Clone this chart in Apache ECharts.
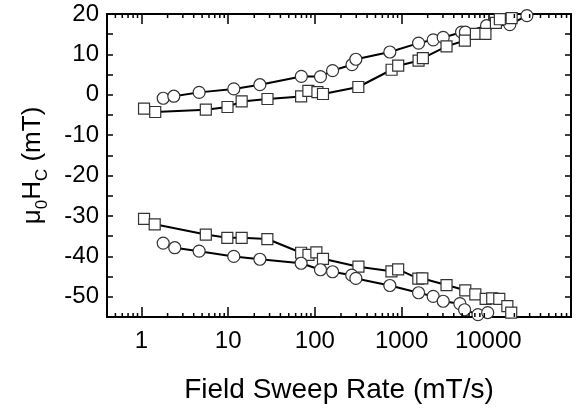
<!DOCTYPE html>
<html lang="en">
<head>
    <meta charset="UTF-8">
    <title>Hc vs sweep rate</title>
    <script src="https://cdn.jsdelivr.net/npm/echarts@6/dist/echarts.min.js"></script>
    <style>
        html, body { margin: 0; padding: 0; background: #fff; }
    </style>
</head>
<body>
<div id="main" style="width: 587px;height:410px;"></div>
<script>
    // [sweep rate (mT/s), mu0*Hc (mT)]
    var upCircles = [
        [1.78, -0.85], [2.36, -0.35], [4.62, 0.6], [11.6, 1.45], [23.2, 2.5],
        [69.8, 4.55], [116, 4.5], [160, 6.0], [268, 7.45], [297, 8.8],
        [732, 10.6], [1570, 12.8], [2316, 13.6], [3020, 14.2], [4920, 15.5],
        [5450, 15.5], [9550, 17.1], [17700, 17.35], [27900, 19.6]
    ]
    var upSquares = [
        [1.07, -3.44], [1.44, -4.26], [5.52, -3.69], [9.82, -3.02], [14.3, -1.63],
        [28.4, -1.04], [69.4, -0.4], [84.1, 0.97], [107, 0.64], [124, 0.2],
        [317, 1.93], [767, 6.2], [914, 7.2], [1570, 8.44], [1760, 9.1],
        [3300, 12.0], [5370, 13.4], [7200, 15.1], [9270, 15.1], [12250, 17.8],
        [13600, 18.7], [18600, 19.0]
    ]
    var lowSquares = [
        [1.07, -30.7], [1.42, -32.05], [5.52, -34.6], [9.77, -35.4], [14.3, -35.4],
        [28.3, -35.7], [69.4, -39.1], [84.3, -39.6], [104, -39.0], [124, -40.6],
        [318, -42.55], [764, -43.7], [913, -43.2], [1560, -45.5], [1735, -45.45],
        [3300, -47.1], [5430, -48.4], [7090, -49.4], [9330, -50.5], [11100, -50.4],
        [13400, -50.5], [16600, -52.3], [18400, -53.9]
    ]
    var lowCircles = [
        [1.78, -36.7], [2.42, -37.85], [4.62, -38.7], [11.6, -40.0], [23.2, -40.7],
        [69.4, -41.7], [116, -43.3], [160, -43.8], [266, -44.65], [297, -45.45],
        [732, -47.2], [1570, -49.0], [2316, -49.9], [3020, -51.1], [4700, -51.7],
        [5330, -53.2], [7600, -54.4], [9850, -53.9]
    ]

    var xMin = 0.4, xMax = 90000
    var yMin = -55, yMax = 20
    var xLabels = [1, 10, 100, 1000, 10000]
    var yLabels = [-50, -40, -30, -20, -10, 0, 10, 20]

    // minor log ticks 2..9 x 10^k inside the axis range
    var minorTicks = []
    for (var k = -1; k <= 4; k++) {
        for (var m = 2; m <= 9; m++) {
            var v = m * Math.pow(10, k)
            if (v > xMin && v < xMax) minorTicks.push([v, 0])
        }
    }

    var myChart = echarts.init(document.getElementById('main'))

    var font = 'Liberation Sans, Arial, Helvetica, sans-serif'

    function xAxisCfg(pos, showLabel) {
        return {
            type: 'log',
            logBase: 10,
            position: pos,
            min: xMin,
            max: xMax,
            splitLine: {show: false},
            axisLine: {show: true, onZero: false, lineStyle: {color: '#000', width: 2}},
            axisTick: {inside: true, length: 10, lineStyle: {color: '#000', width: 1.5}},
            axisLabel: {
                show: showLabel,
                showMinLabel: false,
                showMaxLabel: false,
                margin: 12,
                color: '#000',
                fontSize: 24,
                fontFamily: font,
                formatter: function (val) {
                    for (var i = 0; i < xLabels.length; i++) {
                        if (Math.abs(val - xLabels[i]) < 1e-6 * xLabels[i]) return String(xLabels[i])
                    }
                    return ''
                }
            }
        }
    }

    function yAxisCfg(pos, showLabel) {
        return {
            type: 'value',
            position: pos,
            min: yMin,
            max: yMax,
            interval: 5,
            splitLine: {show: false},
            axisLine: {show: true, onZero: false, lineStyle: {color: '#000', width: 2}},
            axisTick: {inside: true, length: 6, lineStyle: {color: '#000', width: 1.5}},
            axisLabel: {
                show: showLabel,
                margin: 8,
                color: '#000',
                fontSize: 24,
                fontFamily: font,
                formatter: function (val) {
                    return yLabels.indexOf(val) >= 0 ? String(val) : ''
                }
            }
        }
    }

    var xBottom = xAxisCfg('bottom', true)
    xBottom.name = 'Field Sweep Rate (mT/s)'
    xBottom.nameLocation = 'middle'
    xBottom.nameGap = 59
    xBottom.nameTextStyle = {color: '#000', fontSize: 28, fontFamily: font}

    var yLeft = yAxisCfg('left', true)
    yLeft.name = '{a|\u03bc}{s|0}{a|H}{s|C}{a| (mT)}'
    yLeft.nameLocation = 'middle'
    yLeft.nameGap = 50
    yLeft.nameTextStyle = {
        color: '#000',
        fontFamily: font,
        rich: {
            a: {fontSize: 26, color: '#000', fontFamily: font, height: 30},
            s: {fontSize: 17, color: '#000', fontFamily: font, height: 30, padding: [18, 0, 0, 0]}
        }
    }

    function lineSeries(data, symbol, size) {
        return {
            type: 'line',
            data: data,
            symbol: symbol,
            symbolSize: size,
            showAllSymbol: true,
            lineStyle: {color: '#000', width: 2},
            itemStyle: {color: '#fff', borderColor: '#333', borderWidth: 1.2},
            emphasis: {disabled: true},
            z: 3
        }
    }

    var option = {
        animation: false,
        backgroundColor: '#fff',
        grid: {left: 107, right: 16, top: 14, bottom: 93},
        xAxis: [xBottom, xAxisCfg('top', false)],
        yAxis: [yLeft, yAxisCfg('right', false)],
        series: [
            lineSeries(upCircles, 'circle', 12),
            lineSeries(upSquares, 'rect', 11),
            lineSeries(lowSquares, 'rect', 11),
            lineSeries(lowCircles, 'circle', 12),
            {
                type: 'custom',
                data: minorTicks,
                silent: true,
                clip: false,
                z: 5,
                renderItem: function (params, api) {
                    var b = api.coord([api.value(0), yMin])
                    var t = api.coord([api.value(0), yMax])
                    var st = {stroke: '#000', lineWidth: 1.5}
                    return {
                        type: 'group',
                        children: [
                            {type: 'line', shape: {x1: b[0], y1: b[1], x2: b[0], y2: b[1] - 4}, style: st},
                            {type: 'line', shape: {x1: t[0], y1: t[1], x2: t[0], y2: t[1] + 4}, style: st}
                        ]
                    }
                }
            }
        ]
    }

    myChart.setOption(option)
</script>
</body>
</html>
